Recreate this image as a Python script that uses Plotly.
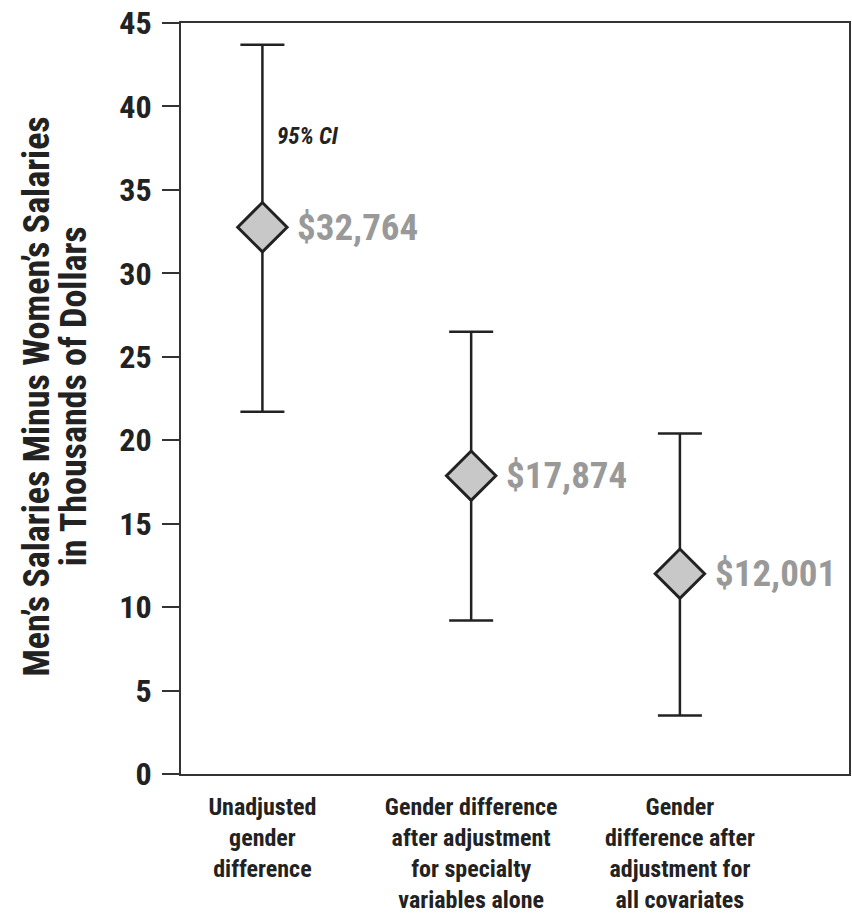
import plotly.graph_objects as go

# Gender salary gap estimates (thousands of dollars) with 95% confidence limits
categories = [
    "Unadjusted<br>gender<br>difference",
    "Gender difference<br>after adjustment<br>for specialty<br>variables alone",
    "Gender<br>difference after<br>adjustment for<br>all covariates",
]
estimates = [32.764, 17.874, 12.001]
ci_lower = [21.7, 9.2, 3.5]
ci_upper = [43.7, 26.5, 20.4]
y_ticks = [0, 5, 10, 15, 20, 25, 30, 35, 40, 45]

FONT = "Roboto Condensed, Roboto, sans-serif"
INK = "#222222"

xpos = list(range(len(categories)))
err_plus = [u - e for u, e in zip(ci_upper, estimates)]
err_minus = [e - l for e, l in zip(estimates, ci_lower)]

fig = go.Figure()
fig.add_trace(go.Scatter(
    x=xpos,
    y=estimates,
    mode="markers",
    marker=dict(symbol="diamond", size=38, color="#c8c8c8",
                line=dict(color=INK, width=3)),
    error_y=dict(type="data", symmetric=False, array=err_plus,
                 arrayminus=err_minus, color=INK, thickness=2.5, width=22),
    hoverinfo="skip",
    showlegend=False,
))

# Dollar value beside each estimate
for x, v in zip(xpos, estimates):
    fig.add_annotation(
        x=x, y=v, xref="x", yref="y", xanchor="left", yanchor="middle",
        xshift=33, showarrow=False,
        text=f"${v * 1000:,.0f}",
        font=dict(family=FONT, size=37, color="#999999", weight="bold"),
    )

# Confidence interval label
fig.add_annotation(
    x=0, y=38.2, xref="x", yref="y", xanchor="left", yanchor="middle",
    xshift=13, showarrow=False, text="<i>95% CI</i>",
    font=dict(family=FONT, size=23, color=INK, weight="bold"),
)

# Two-line vertical axis title
for text, xpx in [("Men\u2019s Salaries Minus Women\u2019s Salaries", 37),
                  ("in Thousands of Dollars", 74)]:
    fig.add_annotation(
        x=(xpx - 181) / 670, y=(776 - 397) / 753, xref="paper", yref="paper",
        xanchor="center", yanchor="middle", textangle=-90, showarrow=False,
        text=text,
        font=dict(family=FONT, size=36, color=INK, weight="bold"),
    )

fig.update_layout(
    width=852, height=915,
    margin=dict(l=181, r=1, t=23, b=139),
    paper_bgcolor="white", plot_bgcolor="white",
    font=dict(family=FONT, color=INK),
    xaxis=dict(
        range=[-0.39, 2.81], tickvals=xpos, ticktext=categories,
        ticks="", showgrid=False, zeroline=False,
        showline=True, mirror=True, linecolor="#333333", linewidth=2,
        ticklabelstandoff=10,
        tickfont=dict(family=FONT, size=24, color=INK, weight="bold"),
    ),
    yaxis=dict(
        range=[0, 45], tickvals=y_ticks, ticks="outside", ticklen=17,
        tickwidth=2, tickcolor="#333333", showgrid=False, zeroline=False,
        showline=True, mirror=True, linecolor="#333333", linewidth=2,
        ticklabelstandoff=4,
        tickfont=dict(family=FONT, size=32, color=INK, weight="bold"),
    ),
)

fig.write_html("out.html")
